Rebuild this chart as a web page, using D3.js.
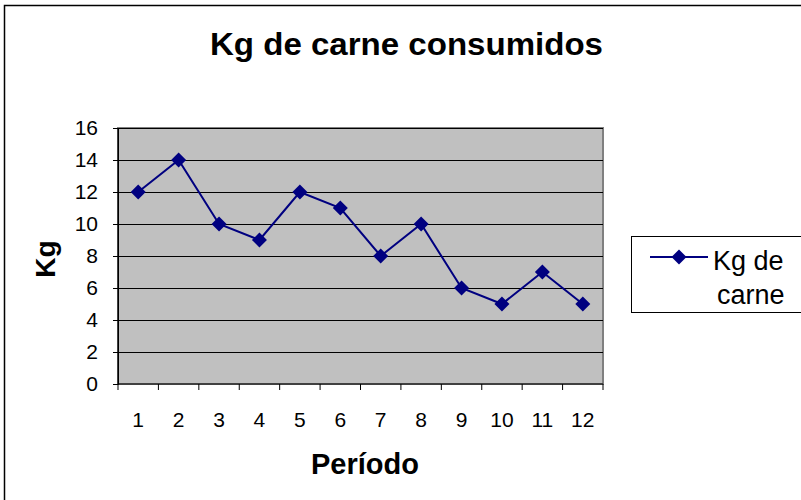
<!DOCTYPE html>
<html><head><meta charset="utf-8">
<script src="https://cdn.jsdelivr.net/npm/d3@7"></script>
<style>body{margin:0;background:#fff}svg{display:block;font-family:Arial,"Liberation Sans",sans-serif}</style>
</head><body><svg id="c" width="801" height="500"></svg>
<script>
const categories = ["1","2","3","4","5","6","7","8","9","10","11","12"];
const values = [12,14,10,9,12,11,8,10,6,5,7,5];
const yTicks = [0,2,4,6,8,10,12,14,16];
const seriesName = ["Kg de", "carne"];

const svg = d3.select("#c");
svg.append("rect").attr("x",4.5).attr("y",5.5).attr("width",820).attr("height",520)
  .attr("fill","#fff").attr("stroke","#000").attr("stroke-width",1.5);

const L=118, R=603, T=128, B=384;
const x = d3.scaleBand().domain(categories).range([L,R]);
const y = d3.scaleLinear().domain([0,16]).range([B,T]);

svg.append("rect").attr("x",L).attr("y",T).attr("width",R-L).attr("height",B-T)
  .attr("fill","#c0c0c0").attr("stroke","#808080").attr("stroke-width",2);

svg.append("g").selectAll("line").data(yTicks.filter(d=>d>0)).join("line")
  .attr("x1",L).attr("x2",R).attr("y1",d=>y(d)+0.5).attr("y2",d=>y(d)+0.5)
  .attr("stroke","#000").attr("stroke-width",1);

const yAxis = d3.axisLeft(y).tickValues(yTicks).tickSize(5).tickPadding(15);
const gy = svg.append("g").attr("transform",`translate(${L},0)`).call(yAxis);
gy.selectAll("text").attr("font-size",21).attr("fill","#000").attr("font-family","Arial, 'Liberation Sans', sans-serif");
gy.selectAll("line,path").attr("stroke","#000");

const xAxis = d3.axisBottom(x).tickSize(0).tickPadding(28);
const gx = svg.append("g").attr("transform",`translate(0,${B})`).call(xAxis);
gx.select("path").remove();
gx.selectAll("text").attr("font-size",21).attr("fill","#000").attr("font-family","Arial, 'Liberation Sans', sans-serif");
const edges = categories.map(c=>x(c)).concat([R]);
svg.append("g").selectAll("line").data(edges).join("line")
  .attr("x1",d=>d).attr("x2",d=>d).attr("y1",B).attr("y2",B+6).attr("stroke","#000");
svg.append("line").attr("x1",L).attr("x2",R).attr("y1",B).attr("y2",B).attr("stroke","#000");
svg.append("line").attr("x1",L).attr("x2",L).attr("y1",T).attr("y2",B).attr("stroke","#000");

const line = d3.line().x((d,i)=>x(categories[i])+x.bandwidth()/2).y(d=>y(d));
svg.append("path").datum(values).attr("d",line).attr("fill","none")
  .attr("stroke","#000080").attr("stroke-width",2);
const dpath = "M0,-7.5L7.5,0L0,7.5L-7.5,0Z";
svg.append("g").selectAll("path").data(values).join("path")
  .attr("d",dpath)
  .attr("transform",(d,i)=>`translate(${x(categories[i])+x.bandwidth()/2},${y(d)})`)
  .attr("fill","#000080");

svg.append("text").attr("x",406.5).attr("y",55).attr("text-anchor","middle")
  .attr("font-size",31).attr("font-weight","bold")
  .attr("textLength",393).attr("lengthAdjust","spacingAndGlyphs").text("Kg de carne consumidos");
svg.append("text").attr("transform","translate(55,259) rotate(-90)").attr("text-anchor","middle")
  .attr("font-size",28).attr("font-weight","bold").text("Kg");
svg.append("text").attr("x",365).attr("y",474).attr("text-anchor","middle")
  .attr("font-size",29).attr("font-weight","bold").text("Período");

svg.append("rect").attr("x",631.5).attr("y",236.5).attr("width",175).attr("height",76)
  .attr("fill","#fff").attr("stroke","#000").attr("stroke-width",1);
svg.append("line").attr("x1",650).attr("x2",708).attr("y1",257).attr("y2",257)
  .attr("stroke","#000080").attr("stroke-width",2);
svg.append("path").attr("d",dpath).attr("transform","translate(679,257)").attr("fill","#000080");
svg.append("text").attr("x",713).attr("y",270).attr("font-size",27).text(seriesName[0]);
svg.append("text").attr("x",717).attr("y",304).attr("font-size",27).text(seriesName[1]);
</script></body></html>
